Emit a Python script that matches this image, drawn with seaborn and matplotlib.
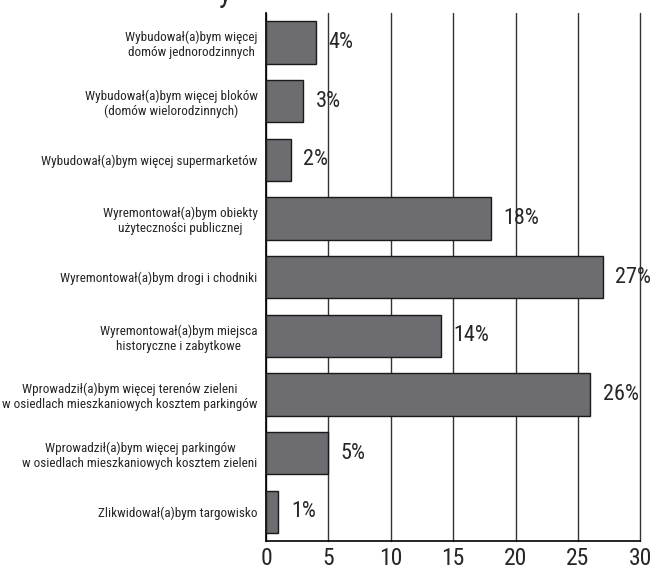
import matplotlib

matplotlib.use('Agg')
import matplotlib.pyplot as plt
from matplotlib import font_manager
import pandas as pd
import seaborn as sns

categories = [
    'Wybudował(a)bym więcej\ndomów jednorodzinnych',
    'Wybudował(a)bym więcej bloków\n(domów wielorodzinnych)',
    'Wybudował(a)bym więcej supermarketów',
    'Wyremontował(a)bym obiekty\nużyteczności publicznej',
    'Wyremontował(a)bym drogi i chodniki',
    'Wyremontował(a)bym miejsca\nhistoryczne i zabytkowe',
    'Wprowadził(a)bym więcej terenów zieleni\nw osiedlach mieszkaniowych kosztem parkingów',
    'Wprowadził(a)bym więcej parkingów\nw osiedlach mieszkaniowych kosztem zieleni',
    'Zlikwidował(a)bym targowisko',
]
values = [4, 3, 2, 18, 27, 14, 26, 5, 1]
value_labels = ['4%', '3%', '2%', '18%', '27%', '14%', '26%', '5%', '1%']
x_ticks = [0, 5, 10, 15, 20, 25, 30]

df = pd.DataFrame({'kategoria': categories, 'procent': values})

# pick the narrowest font that is actually installed
installed = {f.name for f in font_manager.fontManager.ttflist}
preferred = ['Roboto Condensed', 'Liberation Sans Narrow', 'DejaVu Sans Condensed',
             'Roboto', 'Lato', 'DejaVu Sans']
narrow = [f for f in preferred if f in installed][0]

sns.set_style('white')
plt.rcParams['font.family'] = [narrow, 'DejaVu Sans']

fig = plt.figure(figsize=(6.52, 5.72), dpi=100)
ax = fig.add_axes([0.408, 0.054, 0.574, 0.923])

sns.barplot(data=df, x='procent', y='kategoria', orient='h', color='#6c6c71',
            edgecolor='#1a1a1a', linewidth=1, width=0.72, saturation=1, ax=ax, zorder=3)

ax.set_xlim(0, 30)
ax.set_xticks(x_ticks)
ax.set_xticklabels([str(t) for t in x_ticks], fontsize=17)
ax.xaxis.grid(True, color='#333333', linewidth=1, zorder=0)
for gl in ax.get_xgridlines():
    gl.set_clip_on(False)
ax.set_axisbelow(True)
ax.set_xlabel('')
ax.set_ylabel('')
ax.tick_params(axis='y', labelsize=9.5, length=0, pad=6)
ax.tick_params(axis='x', length=0, pad=4)
for lab in ax.get_yticklabels():
    lab.set_horizontalalignment('right')
    lab.set_multialignment('center')

for side in ['top', 'right']:
    ax.spines[side].set_visible(False)
for side in ['left', 'bottom']:
    ax.spines[side].set_color('black')
    ax.spines[side].set_linewidth(1.2)

for i, (v, lab) in enumerate(zip(values, value_labels)):
    ax.annotate(lab, xy=(v, i), xytext=(9, 0), textcoords='offset points',
                va='center', ha='left', fontsize=16, zorder=4)

# fragment of the cropped title above the chart
fig.text(0.345, 1.012, 'y', fontsize=22, ha='center', va='center')

# shrink category labels until the longest one fits left of the axes
fig.canvas.draw()
renderer = fig.canvas.get_renderer()
size = 9.5
limit = ax.get_window_extent().x0 - 8
while size > 6:
    widest = max(t.get_window_extent(renderer).width for t in ax.get_yticklabels())
    if widest <= limit:
        break
    size -= 0.25
    ax.tick_params(axis='y', labelsize=size)
    fig.canvas.draw()

fig.savefig('out.png', dpi=100)
